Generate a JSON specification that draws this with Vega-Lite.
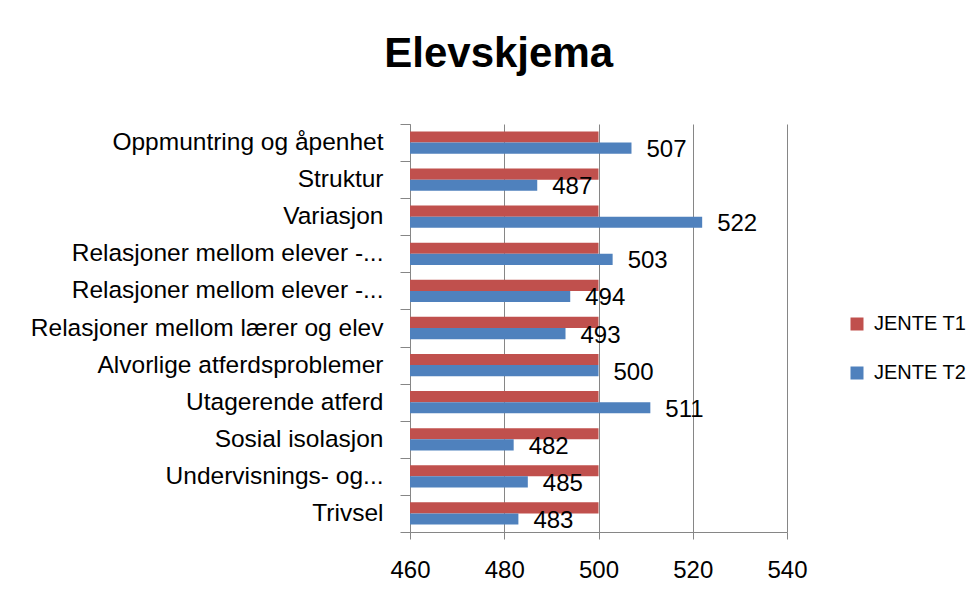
{
  "$schema": "https://vega.github.io/schema/vega-lite/v6.json",
  "autosize": "none",
  "width": 377,
  "height": 408,
  "padding": {"left": 410, "top": 124, "right": 191, "bottom": 61},
  "background": "white",
  "title": {
    "text": "Elevskjema",
    "font": "Liberation Sans",
    "fontSize": 42,
    "fontWeight": "bold",
    "color": "#000000",
    "anchor": "middle",
    "frame": "bounds",
    "offset": 35
  },
  "data": {
    "values": [
      {"nr": 1, "kategori": "Oppmuntring og åpenhet", "serie": "JENTE T1", "verdi": 500},
      {"nr": 1, "kategori": "Oppmuntring og åpenhet", "serie": "JENTE T2", "verdi": 507},
      {"nr": 2, "kategori": "Struktur", "serie": "JENTE T1", "verdi": 500},
      {"nr": 2, "kategori": "Struktur", "serie": "JENTE T2", "verdi": 487},
      {"nr": 3, "kategori": "Variasjon", "serie": "JENTE T1", "verdi": 500},
      {"nr": 3, "kategori": "Variasjon", "serie": "JENTE T2", "verdi": 522},
      {"nr": 4, "kategori": "Relasjoner mellom elever -...#1", "serie": "JENTE T1", "verdi": 500},
      {"nr": 4, "kategori": "Relasjoner mellom elever -...#1", "serie": "JENTE T2", "verdi": 503},
      {"nr": 5, "kategori": "Relasjoner mellom elever -...#2", "serie": "JENTE T1", "verdi": 500},
      {"nr": 5, "kategori": "Relasjoner mellom elever -...#2", "serie": "JENTE T2", "verdi": 494},
      {"nr": 6, "kategori": "Relasjoner mellom lærer og elev", "serie": "JENTE T1", "verdi": 500},
      {"nr": 6, "kategori": "Relasjoner mellom lærer og elev", "serie": "JENTE T2", "verdi": 493},
      {"nr": 7, "kategori": "Alvorlige atferdsproblemer", "serie": "JENTE T1", "verdi": 500},
      {"nr": 7, "kategori": "Alvorlige atferdsproblemer", "serie": "JENTE T2", "verdi": 500},
      {"nr": 8, "kategori": "Utagerende atferd", "serie": "JENTE T1", "verdi": 500},
      {"nr": 8, "kategori": "Utagerende atferd", "serie": "JENTE T2", "verdi": 511},
      {"nr": 9, "kategori": "Sosial isolasjon", "serie": "JENTE T1", "verdi": 500},
      {"nr": 9, "kategori": "Sosial isolasjon", "serie": "JENTE T2", "verdi": 482},
      {"nr": 10, "kategori": "Undervisnings- og...", "serie": "JENTE T1", "verdi": 500},
      {"nr": 10, "kategori": "Undervisnings- og...", "serie": "JENTE T2", "verdi": 485},
      {"nr": 11, "kategori": "Trivsel", "serie": "JENTE T1", "verdi": 500},
      {"nr": 11, "kategori": "Trivsel", "serie": "JENTE T2", "verdi": 483}
    ]
  },
  "encoding": {
    "y": {
      "field": "kategori",
      "type": "nominal",
      "sort": {"field": "nr", "op": "min", "order": "ascending"},
      "scale": {"paddingInner": 0, "paddingOuter": 0},
      "axis": {
        "title": null,
        "labelFont": "Liberation Sans",
        "labelFontSize": 24.5,
        "labelColor": "#000000",
        "labelLimit": 600,
        "labelPadding": 17,
        "tickSize": 10,
        "tickBand": "extent",
        "tickColor": "#868686",
        "domainColor": "#868686",
        "grid": false,
        "labelExpr": "split(datum.label, '#')[0]"
      }
    },
    "yOffset": {
      "field": "serie",
      "type": "nominal",
      "sort": ["JENTE T1", "JENTE T2"],
      "scale": {"paddingInner": 0, "paddingOuter": 0.667}
    },
    "x": {
      "field": "verdi",
      "type": "quantitative",
      "scale": {"domain": [460, 540], "nice": false, "zero": false},
      "axis": {
        "title": null,
        "values": [460, 480, 500, 520, 540],
        "labelFont": "Liberation Sans",
        "labelFontSize": 24,
        "labelColor": "#000000",
        "labelPadding": 19,
        "labelFlush": false,
        "labelOverlap": false,
        "tickSize": 7,
        "tickColor": "#868686",
        "domainColor": "#868686",
        "grid": true,
        "gridColor": "#868686",
        "gridWidth": 1
      }
    }
  },
  "layer": [
    {
      "mark": {"type": "bar"},
      "encoding": {
        "x2": {"datum": 460},
        "color": {
          "field": "serie",
          "type": "nominal",
          "scale": {"domain": ["JENTE T1", "JENTE T2"], "range": ["#C0504D", "#4F81BD"]},
          "legend": {
            "title": null,
            "orient": "none",
            "legendX": 437,
            "legendY": 190,
            "padding": 0,
            "labelFont": "Liberation Sans",
            "labelFontSize": 20,
            "labelColor": "#000000",
            "labelOffset": 7,
            "symbolType": "square",
            "symbolSize": 169,
            "symbolStrokeWidth": 0,
            "rowPadding": 29
          }
        }
      }
    },
    {
      "transform": [{"filter": "datum.serie === 'JENTE T2'"}],
      "mark": {
        "type": "text",
        "align": "left",
        "baseline": "middle",
        "dx": 15,
        "dy": 2,
        "font": "Liberation Sans",
        "fontSize": 24,
        "color": "#000000"
      },
      "encoding": {
        "text": {"field": "verdi", "type": "quantitative"}
      }
    }
  ],
  "config": {
    "view": {"stroke": null},
    "font": "Liberation Sans"
  }
}
